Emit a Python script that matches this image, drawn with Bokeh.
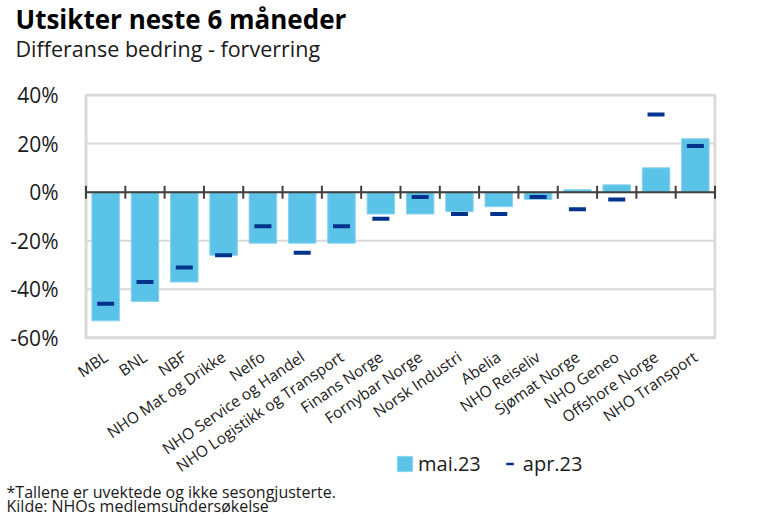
import math
from bokeh.plotting import figure
from bokeh.models import FixedTicker, Range1d, Title, Legend, LegendItem
from bokeh.core.properties import value
from bokeh.embed import file_html
from bokeh.resources import INLINE

categories = ["MBL", "BNL", "NBF", "NHO Mat og Drikke", "Nelfo", "NHO Service og Handel",
              "NHO Logistikk og Transport", "Finans Norge", "Fornybar Norge", "Norsk Industri",
              "Abelia", "NHO Reiseliv", "Sjømat Norge", "NHO Geneo", "Offshore Norge", "NHO Transport"]
mai23 = [-53, -45, -37, -26, -21, -21, -21, -9, -9, -8, -6, -3, 1, 3, 10, 22]
apr23 = [-46, -37, -31, -26, -14, -25, -14, -11, -2, -9, -9, -2, -7, -3, 32, 19]
y_ticks = [-60, -40, -20, 0, 20, 40]
y_labels = ["-60%", "-40%", "-20%", "0%", "20%", "40%"]

FONT = "Open Sans"
BAR = "#5BC3E8"
MARK = "#00338D"
TXT = "#1a1a1a"
GRID = "#D9D9D9"

n = len(categories)
xs = list(range(n))
ymin, ymax = y_ticks[0], y_ticks[-1]

# layout in canvas pixels: the frame holds the chart box plus the label/legend band below it
W, H = 760, 519
FL, FR, FT, FB = 70, 716, 92, 480
BOX_LEFT, BOX_RIGHT, BOX_TOP, BOX_BOTTOM = 85.5, 714.5, 93.5, 337.0
ppx = (BOX_RIGHT - BOX_LEFT) / n
ppy = (BOX_BOTTOM - BOX_TOP) / (ymax - ymin)
x_range = Range1d(-0.5 - (BOX_LEFT - FL) / ppx, n - 0.5 + (FR - BOX_RIGHT) / ppx)
y_range = Range1d(ymin - (FB - BOX_BOTTOM) / ppy, ymax + (BOX_TOP - FT) / ppy)

p = figure(width=W, height=H, x_range=x_range, y_range=y_range,
           output_backend="svg", toolbar_location=None, title=None, x_axis_location=None,
           min_border_left=FL, min_border_right=W - FR, min_border_top=FT, min_border_bottom=H - FB)
p.background_fill_color = "white"
p.border_fill_color = "white"
p.outline_line_color = None
p.xgrid.grid_line_color = None
p.ygrid.grid_line_color = None

# gridlines and chart box
p.segment(x0=[-0.5] * len(y_ticks), x1=[n - 0.5] * len(y_ticks), y0=y_ticks, y1=y_ticks,
          line_color=GRID, line_width=2)
p.quad(left=-0.5, right=n - 0.5, bottom=ymin, top=ymax, fill_color=None,
       line_color=GRID, line_width=3)

bars = p.vbar(x=xs, top=mai23, bottom=0, width=0.7, fill_color=BAR, line_color="#8AD3EF", line_width=1)

# zero line with category-boundary ticks
p.segment(x0=[-0.5], x1=[n - 0.5], y0=[0], y1=[0], line_color="#404040", line_width=2)
bounds = [i - 0.5 for i in range(n + 1)]
p.scatter(x=bounds, y=[0] * len(bounds), marker="dash", size=13, angle=math.pi / 2,
          line_color="#404040", line_width=2)

p.rect(x=xs, y=apr23, width=17, height=4, width_units="screen", height_units="screen",
       fill_color=MARK, line_color=None)
dash = p.scatter(x=[float("nan")], y=[float("nan")], marker="dash", size=10,
                 line_color=MARK, line_width=2.5)

# category labels under the chart box
p.text(x=xs, y=[ymin] * n, text=categories, angle=math.radians(34.5),
       text_align="right", text_baseline="middle", x_offset=0, y_offset=17,
       text_font=value(FONT), text_font_size="15.5px", text_color=TXT)

# y axis
p.yaxis.ticker = FixedTicker(ticks=y_ticks)
p.yaxis.major_label_overrides = {t: l for t, l in zip(y_ticks, y_labels)}
p.yaxis.axis_line_color = None
p.yaxis.major_tick_line_color = None
p.yaxis.minor_tick_line_color = None
p.yaxis.major_label_text_font = FONT
p.yaxis.major_label_text_font_size = "21px"
p.yaxis.major_label_text_color = TXT
p.yaxis.major_label_standoff = 6

# legend
legend = Legend(items=[LegendItem(label="mai.23", renderers=[bars]),
                       LegendItem(label="apr.23", renderers=[dash])],
                orientation="horizontal", location=(325, 3), padding=0, margin=0,
                glyph_width=19, glyph_height=19, label_standoff=4, spacing=19,
                label_text_font=FONT, label_text_font_size="20px", label_text_color=TXT,
                border_line_color=None, background_fill_alpha=0)
p.add_layout(legend, "center")

# titles (first added is nearest the frame); the first one is a blank spacer
p.add_layout(Title(text=" ", text_color="white", text_font=FONT, text_font_size="10px",
                   standoff=15.5), "above")
p.add_layout(Title(text="Differanse bedring - forverring", align="left", offset=15 - FL,
                   standoff=-8.2, vertical_align="top",
                   text_font=FONT, text_font_size="21.5px", text_font_style="normal",
                   text_color=TXT), "above")
p.add_layout(Title(text="Utsikter neste 6 måneder", align="left", offset=15 - FL,
                   standoff=0.4, vertical_align="top",
                   text_font=FONT, text_font_size="26px", text_font_style="bold",
                   text_color="#000000"), "above")

# footnotes
p.add_layout(Title(text="*Tallene er uvektede og ikke sesongjusterte.\nKilde: NHOs medlemsundersøkelse",
                   align="left", offset=6 - FL, standoff=1, text_line_height=0.642,
                   vertical_align="top",
                   text_font=FONT, text_font_size="16px", text_font_style="normal",
                   text_color=TXT), "below")

open("out.html", "w").write(file_html(p, INLINE))
